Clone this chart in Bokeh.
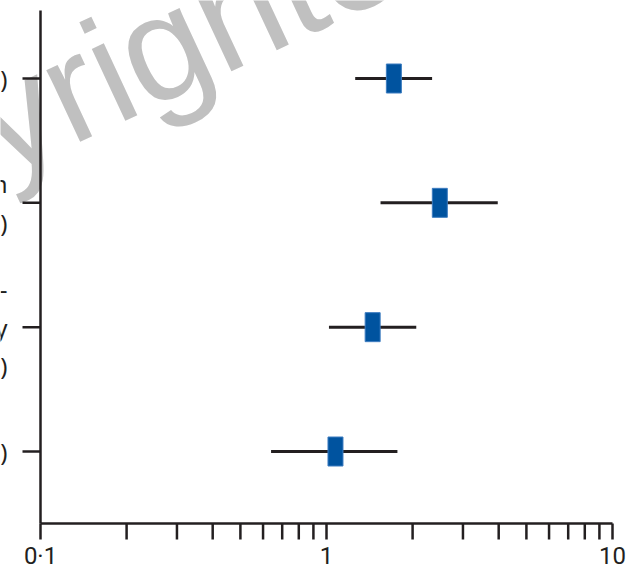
import numpy as np
from bokeh.plotting import figure
from bokeh.models import Range1d, Label
from bokeh.embed import file_html
from bokeh.resources import INLINE

# ---- data (odds ratios with 95% CI), top row first ----
rows = [4, 3, 2, 1]
estimate = [1.72, 2.49, 1.45, 1.075]
ci_low = [1.26, 1.545, 1.02, 0.64]
ci_high = [2.34, 3.97, 2.06, 1.77]
row_labels = [
    ["Model 1 (adjusted)"],
    ["Model 2 with additional adjustment for hypertension", "(adjusted)"],
    ["Model 3 excluding cardio-", "vascular disease at baseline and history", "(adjusted)"],
    ["Model 4 (unadjusted)"],
]
major_ticks = [0.1, 1, 10]
minor_ticks = [0.2, 0.3, 0.4, 0.5, 0.6, 0.7, 0.8, 0.9, 2, 3, 4, 5, 6, 7, 8, 9]
tick_labels = ["0·1", "1", "10"]

INK = "#231f20"
BLUE = "#00539f"
FONT = "Noto Sans"

# layout (pixels)
W, H = 629, 570
AX_LEFT, AX_RIGHT = 40, 612      # pixel of 0.1 and 10
AX_BOTTOM, AX_TOP = 523, 10
ROW_TOP, ROW_BOT = 78, 451
dec = (AX_RIGHT - AX_LEFT) / 2.0
x0 = 10 ** (-1 - AX_LEFT / dec)
x1 = 10 ** (1 + (W - AX_RIGHT) / dec)
rowpx = (ROW_BOT - ROW_TOP) / 3.0
y0 = 1 - (H - ROW_BOT) / rowpx
y1 = 4 + ROW_TOP / rowpx
y_axis_bottom = 1 - (AX_BOTTOM - ROW_BOT) / rowpx
y_axis_top = 4 + (ROW_TOP - AX_TOP) / rowpx

p = figure(width=W, height=H, x_axis_type="log",
           x_axis_location=None, y_axis_location=None,
           x_range=Range1d(x0, x1), y_range=Range1d(y0, y1),
           output_backend="svg", toolbar_location=None,
           min_border_left=0, min_border_right=0,
           min_border_top=0, min_border_bottom=0)
p.outline_line_color = None
p.grid.visible = False
p.background_fill_color = "white"

# watermark (behind everything)
p.add_layout(Label(x=0.008311, y=2.6448, text="Copyrighted", angle=np.deg2rad(25),
                   text_align="left", text_baseline="alphabetic",
                   text_font="Liberation Sans", text_font_size="150px",
                   text_color="#c0c0c0", level="underlay"))

# x axis: line, outward ticks (major + minor), labels
all_ticks = sorted(major_ticks + minor_ticks)
p.segment(x0=[major_ticks[0]], x1=[major_ticks[-1]], y0=[y_axis_bottom], y1=[y_axis_bottom],
          line_color=INK, line_width=2.5)
p.ray(x=all_ticks, y=[y_axis_bottom] * len(all_ticks), length=16, length_units="screen",
      angle=-np.pi / 2, line_color=INK, line_width=2.5)
for t, lab in zip(major_ticks, tick_labels):
    p.add_layout(Label(x=t, y=y_axis_bottom, y_offset=-32, text=lab,
                       text_align="center", text_baseline="middle",
                       text_font="Roboto", text_font_size="24px", text_color=INK))

# y axis: line + outward ticks at the rows
p.segment(x0=[0.1], x1=[0.1], y0=[y_axis_bottom], y1=[y_axis_top], line_color=INK, line_width=2.5)
p.ray(x=[0.1] * len(rows), y=rows, length=18, length_units="screen", angle=np.pi,
      line_color=INK, line_width=2.5)

# confidence intervals and point estimates
p.segment(x0=ci_low, x1=ci_high, y0=rows, y1=rows, line_color=INK, line_width=3)
p.rect(x=estimate, y=rows, width=15, height=29, width_units="screen",
       height_units="screen", fill_color=BLUE, line_color="#3d7cc0", line_width=1)

# row labels (cut off at the left edge as in the reference)
line_gap = 38.5
for r, lines in zip(rows, row_labels):
    n = len(lines)
    for i, t in enumerate(lines):
        off = ((n - 1) / 2 - i) * line_gap
        p.add_layout(Label(x=7, y=r, x_units="screen", y_units="data", y_offset=off,
                           text=t, text_align="right", text_baseline="middle",
                           text_font=FONT, text_font_size="24px", text_color=INK))

open("out.html", "w").write(file_html(p, INLINE))
